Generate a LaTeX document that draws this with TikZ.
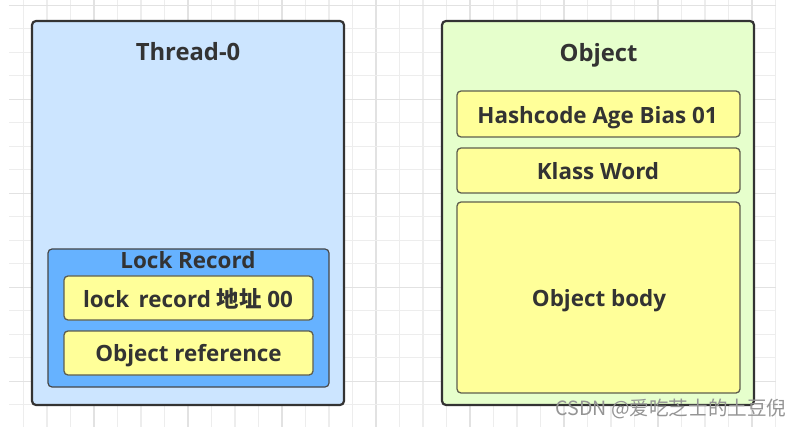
\documentclass[tikz,border=0pt]{standalone}
\usepackage{fontspec}
\setmainfont{Open Sans}
\newfontfamily\cjk{Noto Sans CJK SC}
\definecolor{gridc}{HTML}{EDEDED}
\definecolor{gridd}{HTML}{E2E2E2}
\definecolor{txt}{HTML}{333333}
\definecolor{threadfill}{HTML}{CCE5FF}
\definecolor{objfill}{HTML}{E6FFCC}
\definecolor{lockfill}{HTML}{66B2FF}
\definecolor{slotfill}{HTML}{FFFF99}
\definecolor{slotdraw}{HTML}{5E5E4E}
\definecolor{outerdraw}{HTML}{333333}
\tikzset{
  outerbox/.style={draw=outerdraw, line width=2.2pt, rounded corners=4pt},
  lockbox/.style={draw=outerdraw!90, line width=1.2pt, rounded corners=4pt, fill=lockfill},
  slotbox/.style={draw=slotdraw, line width=1.3pt, rounded corners=4pt, fill=slotfill},
  slottext/.style={font=\fontsize{22.4}{26}\selectfont\bfseries, text=txt, inner sep=0pt,
    text height=16pt, text depth=0pt},
  title/.style={font=\fontsize{23.8}{27}\selectfont\bfseries, text=txt, inner sep=0pt,
    text height=17pt, text depth=0pt},
  wm/.style={font=\cjk\fontsize{19.6}{22}\selectfont, text=black!42, inner sep=0pt}
}
\begin{document}
\begin{tikzpicture}[x=1pt,y=-1pt]
\useasboundingbox (0,0) rectangle (802,427);
\fill[white] (0,0) rectangle (802,427);
% grid
\foreach \k in {1,...,33}{
  \pgfmathtruncatemacro{\m}{mod(\k,4)}
  \ifnum\m=0 \draw[gridd, line width=1.2pt] (23.5*\k,0) -- (23.5*\k,427);
  \else \draw[gridc, line width=1.2pt] (23.5*\k,0) -- (23.5*\k,427); \fi
}
\foreach \k in {0,...,17}{
  \pgfmathtruncatemacro{\m}{mod(\k,4)}
  \ifnum\m=0 \draw[gridd, line width=1.2pt] (9,5.3+23.5*\k) -- (776,5.3+23.5*\k);
  \else \draw[gridc, line width=1.2pt] (9,5.3+23.5*\k) -- (776,5.3+23.5*\k); \fi
}
% Thread-0
\node[outerbox, fill=threadfill, minimum width=312pt, minimum height=384pt] (thread) at (188,213) {};
\node[title] (threadt) at (188,52.5) {Thread-0};
\node[lockbox, minimum width=281pt, minimum height=138pt] (lockrec) at (188.5,318) {};
\node[slottext] (lockt) at (188,261) {Lock Record};
\node[slotbox, minimum width=249pt, minimum height=44pt] (lraddr) at (188.5,298) {};
\node[slottext] (lraddrt) at (188,299) {lock\, record {\cjk\bfseries 地址} 00};
\node[slotbox, minimum width=249pt, minimum height=44pt] (objref) at (188.5,353) {};
\node[slottext] (objreft) at (188.5,353) {Object reference};
% Object
\node[outerbox, fill=objfill, minimum width=312pt, minimum height=384pt] (object) at (598,213) {};
\node[title] (objectt) at (598.5,53) {Object};
\node[slotbox, minimum width=283pt, minimum height=46pt] (hash) at (598.5,114) {};
\node[slottext] (hasht) at (597.5,115.5) {Hashcode Age Bias 01};
\node[slotbox, minimum width=283pt, minimum height=45pt] (klass) at (598.5,170.5) {};
\node[slottext] (klasst) at (598,171.5) {Klass Word};
\node[slotbox, minimum width=283pt, minimum height=191pt] (body) at (598.5,297.5) {};
\node[slottext] (bodyt) at (599,298) {Object body};
% watermark text
\node[wm] (csdn) at (671,409) {CSDN @爱吃芝士的土豆倪};
\end{tikzpicture}
\end{document}
